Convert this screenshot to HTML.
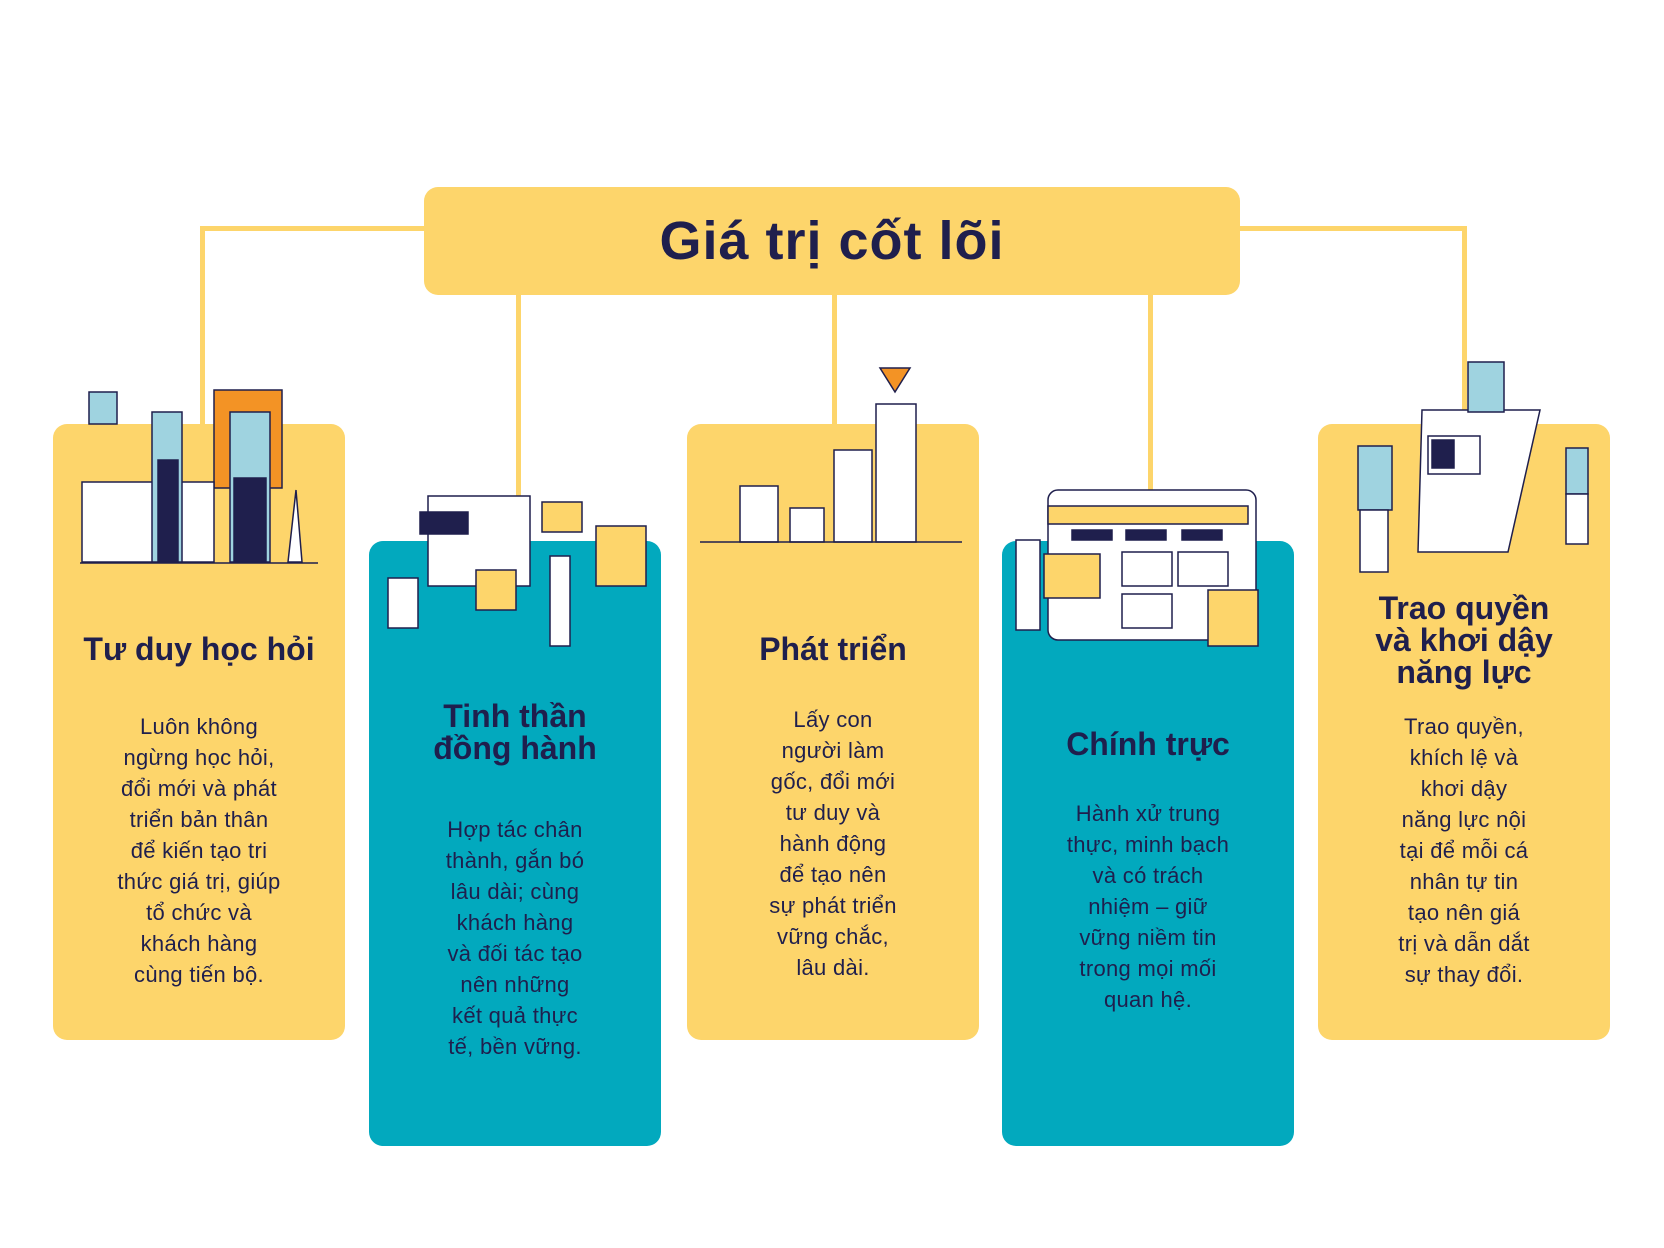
<!DOCTYPE html>
<html><head><meta charset="utf-8"><style>
*{margin:0;padding:0;box-sizing:border-box}
body{width:1664px;height:1248px;background:#fff;position:relative;overflow:hidden;font-family:"Liberation Sans",sans-serif;color:#1f1f4d}
.abs{position:absolute}
.line{position:absolute;background:#fdd56b}
.card{position:absolute;border-radius:14px;width:292px}
.y{background:#fdd56b}.t{background:#02a9be}
.h{position:absolute;left:0;width:100%;text-align:center;font-weight:bold;font-size:32px;line-height:32px}
.b{position:absolute;left:0;width:100%;text-align:center;font-size:22px;line-height:31px;letter-spacing:0.3px}
</style></head><body>
<div class="line" style="left:200px;top:226px;width:226px;height:5px"></div>
<div class="line" style="left:200px;top:226px;width:5px;height:200px"></div>
<div class="line" style="left:1238px;top:226px;width:229px;height:5px"></div>
<div class="line" style="left:1462px;top:226px;width:5px;height:200px"></div>
<div class="line" style="left:516px;top:290px;width:5px;height:253px"></div>
<div class="line" style="left:832px;top:290px;width:5px;height:136px"></div>
<div class="line" style="left:1148px;top:290px;width:5px;height:253px"></div>
<div class="abs y" style="left:424px;top:187px;width:816px;height:108px;border-radius:14px;text-align:center;font-weight:bold;font-size:54px;line-height:108px;letter-spacing:1px">Giá trị cốt lõi</div>

<div class="card y" style="left:53px;top:424px;height:616px">
<div class="h" style="top:209px">Tư duy học hỏi</div>
<div class="b" style="top:287px">Luôn không<br>ngừng học hỏi,<br>đổi mới và phát<br>triển bản thân<br>để kiến tạo tri<br>thức giá trị, giúp<br>tổ chức và<br>khách hàng<br>cùng tiến bộ.</div></div>
<div class="card t" style="left:369px;top:541px;height:605px">
<div class="h" style="top:159px">Tinh thần<br>đồng hành</div>
<div class="b" style="top:273px">Hợp tác chân<br>thành, gắn bó<br>lâu dài; cùng<br>khách hàng<br>và đối tác tạo<br>nên những<br>kết quả thực<br>tế, bền vững.</div></div>
<div class="card y" style="left:687px;top:424px;height:616px">
<div class="h" style="top:209px">Phát triển</div>
<div class="b" style="top:280px">Lấy con<br>người làm<br>gốc, đổi mới<br>tư duy và<br>hành động<br>để tạo nên<br>sự phát triển<br>vững chắc,<br>lâu dài.</div></div>
<div class="card t" style="left:1002px;top:541px;height:605px">
<div class="h" style="top:187px">Chính trực</div>
<div class="b" style="top:257px">Hành xử trung<br>thực, minh bạch<br>và có trách<br>nhiệm – giữ<br>vững niềm tin<br>trong mọi mối<br>quan hệ.</div></div>
<div class="card y" style="left:1318px;top:424px;height:616px">
<div class="h" style="top:168px">Trao quyền<br>và khơi dậy<br>năng lực</div>
<div class="b" style="top:287px">Trao quyền,<br>khích lệ và<br>khơi dậy<br>năng lực nội<br>tại để mỗi cá<br>nhân tự tin<br>tạo nên giá<br>trị và dẫn dắt<br>sự thay đổi.</div></div>

<svg class="abs" style="left:0;top:0" width="1664" height="1248">
<g stroke="#1f1f4d" stroke-width="1.5">
<rect x="89" y="392" width="28" height="32" fill="#9fd3e0"/>
<rect x="214" y="390" width="68" height="98" fill="#f39325"/>
<rect x="82" y="482" width="132" height="80" fill="#fff"/>
<rect x="152" y="412" width="30" height="150" fill="#9fd3e0"/>
<rect x="158" y="460" width="20" height="102" fill="#1f1f4d"/>
<rect x="230" y="412" width="40" height="150" fill="#9fd3e0"/>
<rect x="234" y="478" width="32" height="84" fill="#1f1f4d"/>
<polygon points="288,562 302,562 296,490" fill="#fff"/>
<line x1="80" y1="563" x2="318" y2="563"/>
<rect x="428" y="496" width="102" height="90" fill="#fff"/>
<rect x="420" y="512" width="48" height="22" fill="#1f1f4d"/>
<rect x="542" y="502" width="40" height="30" fill="#fdd56b"/>
<rect x="596" y="526" width="50" height="60" fill="#fdd56b"/>
<rect x="388" y="578" width="30" height="50" fill="#fff"/>
<rect x="476" y="570" width="40" height="40" fill="#fdd56b"/>
<rect x="550" y="556" width="20" height="90" fill="#fff"/>
<rect x="740" y="486" width="38" height="56" fill="#fff"/>
<rect x="790" y="508" width="34" height="34" fill="#fff"/>
<rect x="834" y="450" width="38" height="92" fill="#fff"/>
<rect x="876" y="404" width="40" height="138" fill="#fff"/>
<polygon points="880,368 910,368 895,392" fill="#f39325"/>
<line x1="700" y1="542" x2="962" y2="542"/>
<rect x="1048" y="490" width="208" height="150" rx="10" fill="#fff"/>
<rect x="1048" y="506" width="200" height="18" fill="#fdd56b"/>
<rect x="1072" y="530" width="40" height="10" fill="#1f1f4d"/>
<rect x="1126" y="530" width="40" height="10" fill="#1f1f4d"/>
<rect x="1182" y="530" width="40" height="10" fill="#1f1f4d"/>
<rect x="1044" y="554" width="56" height="44" fill="#fdd56b"/>
<rect x="1122" y="552" width="50" height="34" fill="#fff"/>
<rect x="1122" y="594" width="50" height="34" fill="#fff"/>
<rect x="1178" y="552" width="50" height="34" fill="#fff"/>
<rect x="1016" y="540" width="24" height="90" fill="#fff"/>
<rect x="1208" y="590" width="50" height="56" fill="#fdd56b"/>
<polygon points="1422,410 1540,410 1508,552 1418,552" fill="#fff"/>
<rect x="1428" y="436" width="52" height="38" fill="#fff"/>
<rect x="1432" y="440" width="22" height="28" fill="#1f1f4d"/>
<rect x="1358" y="446" width="34" height="64" fill="#9fd3e0"/>
<rect x="1360" y="510" width="28" height="62" fill="#fff"/>
<rect x="1468" y="362" width="36" height="50" fill="#9fd3e0"/>
<rect x="1566" y="448" width="22" height="46" fill="#9fd3e0"/>
<rect x="1566" y="494" width="22" height="50" fill="#fff"/>
</g></svg>
</body></html>
